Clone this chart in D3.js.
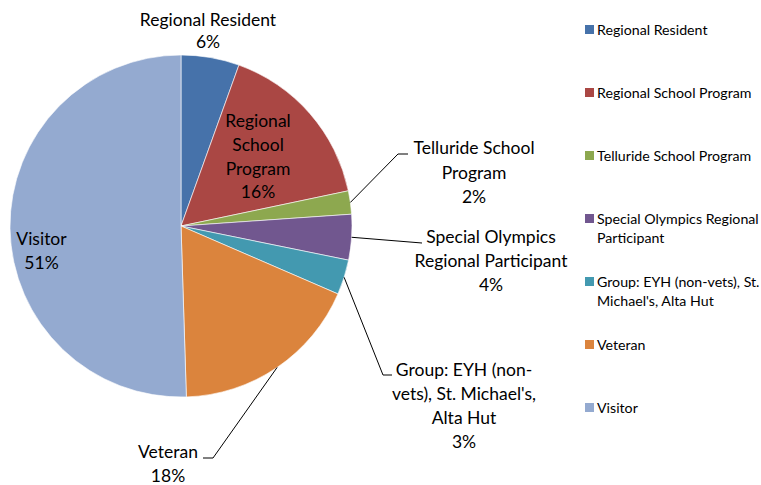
<!DOCTYPE html>
<html>
<head>
<meta charset="utf-8">
<script src="https://cdn.jsdelivr.net/npm/d3@7"></script>
<style>
  html, body { margin: 0; padding: 0; background: #fff; }
  svg text { font-family: Lato, "Open Sans", sans-serif; fill: #000; }
</style>
</head>
<body>
<svg id="chart" width="761" height="485"></svg>
<script>
// ---- data ----
const categories = [
  "Regional Resident",
  "Regional School Program",
  "Telluride School Program",
  "Special Olympics Regional Participant",
  "Group: EYH (non-vets),  St. Michael's, Alta Hut",
  "Veteran",
  "Visitor"
];
const values = [5.5, 16.2, 2.2, 4.3, 3.3, 18.0, 50.5];
const pctLabels = ["6%", "16%", "2%", "4%", "3%", "18%", "51%"];
const colors = ["#4672AA", "#AA4744", "#8DA84F", "#71578F", "#4399B0", "#DB843D", "#94AAD0"];

// data label text lines (category part)
const labelLines = [
  ["Regional Resident"],
  ["Regional", "School", "Program"],
  ["Telluride School", "Program"],
  ["Special Olympics", "Regional Participant"],
  ["Group: EYH (non-", "vets),  St. Michael's,", "Alta Hut"],
  ["Veteran"],
  ["Visitor"]
];
const legendLines = [
  ["Regional Resident"],
  ["Regional School Program"],
  ["Telluride School Program"],
  ["Special Olympics Regional", "Participant"],
  ["Group: EYH (non-vets),  St.", "Michael's, Alta Hut"],
  ["Veteran"],
  ["Visitor"]
];

// ---- layout (positions kept separate from data) ----
const cx = 181, cy = 226, R = 171;
const labelLayout = [
  { x: 208, y: 20, lh: 22, leader: null },
  { x: 258, y: 121, lh: 23.7, leader: null },
  { x: 474, y: 148, lh: 24.5, leader: [[398, 154], [408, 154]] },
  { x: 491, y: 237, lh: 24, leader: [[422, 243]] },
  { x: 464, y: 370, lh: 24, leader: [[383, 375], [392, 375]] },
  { x: 168, y: 452, lh: 24, leader: [[213, 458], [203, 458]] },
  { x: 41.5, y: 239, lh: 24, leader: null }
];
const legendX = 585, legendTextX = 597, legendY0 = 30, legendStep = 63, legendSq = 9;

const svg = d3.select("#chart");
const pie = d3.pie().sort(null).value(d => d)(values);
const arc = d3.arc().innerRadius(0).outerRadius(R);

const g = svg.append("g").attr("transform", `translate(${cx},${cy})`);
g.selectAll("path.slice")
  .data(pie)
  .join("path")
  .attr("class", "slice")
  .attr("d", arc)
  .attr("fill", (d, i) => colors[i])
  .attr("stroke", "#fff")
  .attr("stroke-width", 0.6);

// leader lines
const lineGen = d3.line();
pie.forEach((d, i) => {
  const L = labelLayout[i];
  if (!L.leader) return;
  const mid = (d.startAngle + d.endAngle) / 2;
  const start = [cx + R * Math.sin(mid), cy - R * Math.cos(mid)];
  svg.append("path")
    .attr("d", lineGen([start, ...L.leader]))
    .attr("fill", "none")
    .attr("stroke", "#000")
    .attr("stroke-width", 1);
});

// data labels
pie.forEach((d, i) => {
  const L = labelLayout[i];
  const lines = [...labelLines[i], pctLabels[i]];
  const t = svg.append("text")
    .attr("text-anchor", "middle")
    .style("font-size", "17.5px");
  lines.forEach((s, k) => {
    t.append("tspan")
      .attr("x", L.x)
      .attr("y", L.y + k * L.lh)
      .attr("dy", "0.35em")
      .text(s);
  });
});

// legend
const lg = svg.append("g");
categories.forEach((c, i) => {
  const y = legendY0 + i * legendStep;
  lg.append("rect")
    .attr("x", legendX).attr("y", y - legendSq / 2 - 0.5)
    .attr("width", legendSq).attr("height", legendSq)
    .attr("fill", colors[i]);
  const t = lg.append("text").style("font-size", "14.2px");
  legendLines[i].forEach((s, k) => {
    t.append("tspan")
      .attr("x", legendTextX)
      .attr("y", y + k * 19)
      .attr("dy", "0.35em")
      .text(s);
  });
});
</script>
</body>
</html>
